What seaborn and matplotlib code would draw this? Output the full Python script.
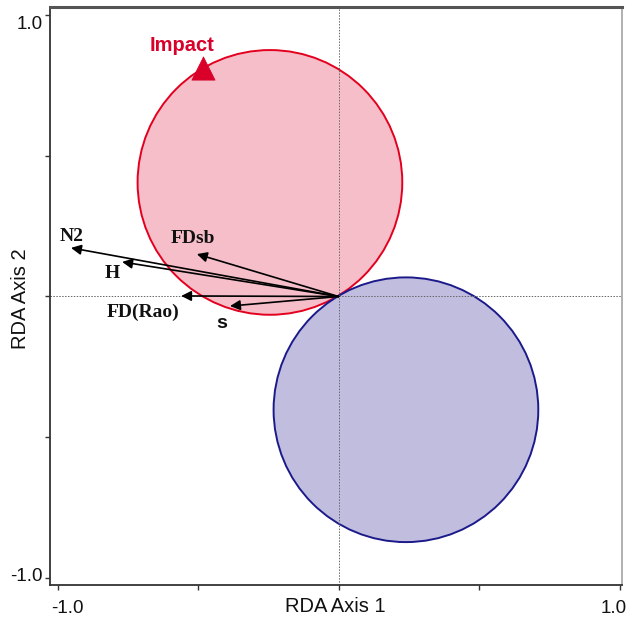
import matplotlib
matplotlib.use("Agg")
import matplotlib.pyplot as plt
import matplotlib.transforms as mtransforms
import seaborn as sns
import pandas as pd
from matplotlib.patches import Circle

# Data
var_names = ["N2", "H", "FDsb", "FD(Rao)", "s"]
var_x = [-0.952, -0.770, -0.504, -0.560, -0.386]
var_y = [0.173, 0.123, 0.151, 0.002, -0.034]
label_x = [-0.948, -0.806, -0.518, -0.696, -0.415]
label_y = [0.213, 0.081, 0.206, -0.058, -0.097]

group_names = ["Impact", "Control"]
circle_cx = [-0.244, 0.240]
circle_cy = [0.406, -0.403]
circle_r = [0.471, 0.471]
circle_face = ["#f5bec8", "#c0bddf"]
circle_edge = ["#e3001f", "#1c1a8a"]

impact_x = [-0.482]
impact_y = [0.813]

xticks = [-1.0, -0.5, 0.0, 0.5, 1.0]
xticklabels = ["-1.0", "", "", "", "1.0"]
yticks = [-1.0, -0.5, 0.0, 0.5, 1.0]
yticklabels = ["-1.0", "", "", "", "1.0"]

sns.set_style("white")
plt.rcParams["font.family"] = ["Liberation Sans", "DejaVu Sans"]

W, H = 627, 621
fig = plt.figure(figsize=(W / 100, H / 100), dpi=100)
L, R, T, B = 50, 622, 7, 585
ax = fig.add_axes([L / W, 1 - B / H, (R - L) / W, (B - T) / H])
unit = 281.0
x0, y0 = 338.5, 296.5
ax.set_xlim((L - x0) / unit, (R - x0) / unit)
ax.set_ylim((y0 - B) / unit, (y0 - T) / unit)

# circles
for cx, cy, r, fc, ec in zip(circle_cx, circle_cy, circle_r, circle_face, circle_edge):
    ax.add_patch(Circle((cx, cy), r, facecolor=fc, edgecolor=ec, lw=1.4, zorder=1))

# zero lines
ax.axhline(0, color="#666666", lw=0.7, ls=(0, (1.5, 1.5)), zorder=2)
ax.axvline(0, color="#666666", lw=0.7, ls=(0, (1.5, 1.5)), zorder=2)

# arrows
for name, x, y, lx, ly in zip(var_names, var_x, var_y, label_x, label_y):
    ax.annotate("", xy=(x, y), xytext=(0, 0),
                arrowprops=dict(arrowstyle="-|>", color="black", lw=1.2,
                                mutation_scale=15, shrinkA=0, shrinkB=0),
                zorder=4)
    fam = ["Liberation Sans"] if name == "s" else ["Liberation Serif"]
    ax.text(lx, ly, name, ha="center", va="center", fontsize=14,
            fontweight="bold", family=fam, color="#111111", zorder=5)

# Impact marker
df = pd.DataFrame({"x": impact_x, "y": impact_y, "g": ["Impact"]})
sns.scatterplot(data=df, x="x", y="y", marker="^", s=280, color="#d9002a",
                edgecolor="#d9002a", linewidth=0.5, ax=ax, zorder=6, legend=False)
ax.text(-0.557, 0.892, "Impact", ha="center", va="center", fontsize=14.5,
        fontweight="bold", color="#d9002a", zorder=6)

ax.set_xticks(xticks)
ax.set_xticklabels(xticklabels)
ax.set_yticks(yticks)
ax.set_yticklabels(yticklabels)
ax.tick_params(axis="both", direction="out", length=3.5, width=1, color="#333333",
               labelsize=13.5, labelcolor="#111111", bottom=True, left=True)
ax.tick_params(axis="x", pad=7)
ax.tick_params(axis="y", pad=2)
ax.set_xlabel("")
ax.set_ylabel("")

# inward shifts of the end tick labels, as in the reference
def shift(lbl, dx, dy):
    lbl.set_transform(lbl.get_transform() +
                      mtransforms.ScaledTranslation(dx / 100, dy / 100, fig.dpi_scale_trans))

xl = ax.get_xticklabels()
shift(xl[0], 9.5, 0)
shift(xl[-1], -6, 0)
yl = ax.get_yticklabels()
shift(yl[0], 0, 3)
shift(yl[-1], 0, -7)

fig.text(335.5 / W, 1 - 607 / H, "RDA Axis 1", ha="center", va="center",
         fontsize=14.5, color="#111111")
fig.text(21 / W, 1 - 299 / H, "RDA Axis 2", ha="center", va="center",
         rotation=90, fontsize=14.5, color="#111111")

for side in ["left", "bottom"]:
    ax.spines[side].set_color("#333333")
    ax.spines[side].set_linewidth(1.3)
ax.spines["top"].set_color("#555555")
ax.spines["top"].set_linewidth(2.2)
ax.spines["right"].set_color("#aaaaaa")
ax.spines["right"].set_linewidth(1.3)

fig.savefig("out.png", dpi=100)
